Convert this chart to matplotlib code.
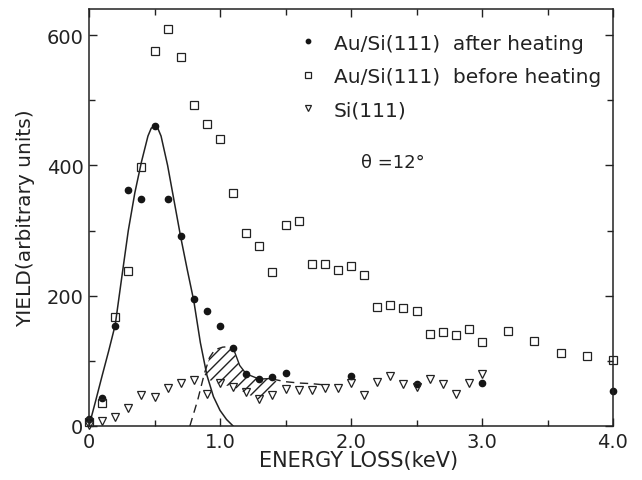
import matplotlib
matplotlib.use("Agg")
import numpy as np
import matplotlib.pyplot as plt
from matplotlib.patches import Polygon
from matplotlib.collections import LineCollection
from matplotlib.ticker import MultipleLocator

plt.rcParams['font.family'] = ['DejaVu Sans']

# Au/Si(111) after heating (filled circles)
after_x = [0.0, 0.1, 0.2, 0.3, 0.4, 0.5, 0.6, 0.7, 0.8, 0.9, 1.0, 1.1, 1.2, 1.3, 1.4, 1.5, 2.0, 2.5, 3.0, 4.0]
after_y = [10, 43, 154, 362, 348, 461, 348, 292, 195, 177, 154, 120, 80, 72, 75, 81, 77, 64, 66, 54]

# Au/Si(111) before heating (open squares)
before_x = [0.0, 0.1, 0.2, 0.3, 0.4, 0.5, 0.6, 0.7, 0.8, 0.9, 1.0, 1.1, 1.2, 1.3, 1.4, 1.5, 1.6,
            1.7, 1.8, 1.9, 2.0, 2.1, 2.2, 2.3, 2.4, 2.5, 2.6, 2.7, 2.8, 2.9, 3.0, 3.2, 3.4, 3.6, 3.8, 4.0]
before_y = [6, 35, 168, 238, 398, 575, 609, 566, 492, 463, 440, 357, 296, 277, 237, 309, 314,
            248, 249, 239, 245, 231, 183, 185, 181, 176, 141, 144, 140, 149, 129, 146, 130, 112, 108, 102]

# Si(111) (open down triangles)
si_x = [0.0, 0.1, 0.2, 0.3, 0.4, 0.5, 0.6, 0.7, 0.8, 0.9, 1.0, 1.1, 1.2, 1.3, 1.4, 1.5, 1.6, 1.7,
        1.8, 1.9, 2.0, 2.1, 2.2, 2.3, 2.4, 2.5, 2.6, 2.7, 2.8, 2.9, 3.0]
si_y = [2, 7, 14, 28, 48, 45, 58, 66, 71, 49, 66, 60, 52, 42, 48, 57, 56, 56,
        58, 58, 66, 47, 67, 76, 64, 60, 72, 65, 49, 66, 80]

# solid fitted peak curve
peak_x = [0.0, 0.05, 0.1, 0.15, 0.2, 0.25, 0.3, 0.35, 0.4, 0.45, 0.475, 0.5, 0.525, 0.55, 0.6, 0.65,
          0.7, 0.75, 0.8, 0.85, 0.9, 0.95, 1.0, 1.05, 1.1]
peak_y = [0, 38, 77, 115, 155, 228, 300, 358, 405, 445, 457, 461, 457, 445, 400, 345,
          290, 240, 192, 128, 78, 45, 24, 10, 0]

# dashed onset curve and top of hatched area
dash1_x = [0.77, 0.83, 0.88, 0.92, 0.96, 1.02, 1.08]
dash1_y = [0, 40, 80, 105, 117, 121, 122]

# thin solid line through after-heating points
link_x = [1.1, 1.15, 1.2, 1.3, 1.4]
link_y = [120, 93, 80, 72, 73]

# dashed tail
dash2_x = [1.4, 1.5, 1.6, 1.7, 1.8]
dash2_y = [72, 68, 66, 65, 63]

# hatched region outline
hatch_x = [0.88, 0.92, 0.96, 1.06, 1.10, 1.15, 1.2, 1.3, 1.4, 1.45, 1.38, 1.3, 1.2, 1.1, 1.0, 0.9]
hatch_y = [80, 105, 117, 122, 118, 93, 80, 72, 72, 66, 48, 40, 50, 60, 64, 72]

labels = ["Au/Si(111)  after heating", "Au/Si(111)  before heating", "Si(111)"]

ink = '#222222'
fig = plt.figure(figsize=(6.42, 4.81), dpi=100)
ax = fig.add_axes([89/642, 1-427/481, 524/642, 417/481])
ax.set_xlim(0, 4.0)
ax.set_ylim(0, 640)

# hatched area: diagonal strokes clipped to the region polygon
hp = Polygon(np.column_stack([hatch_x, hatch_y]), closed=True, facecolor='none',
             edgecolor='none', linewidth=0)
ax.add_patch(hp)
disp = ax.transData.transform(np.column_stack([hatch_x, hatch_y]))
x0, y0 = disp.min(axis=0)
x1, y1 = disp.max(axis=0)
step = 11.0
segs = []
for c in np.arange(y0 - x1, y1 - x0 + step, step):
    p = np.array([[x0 - 5, x0 - 5 + c], [x1 + 5, x1 + 5 + c]])
    segs.append(ax.transData.inverted().transform(p))
lc = LineCollection(segs, colors=ink, linewidths=1.0, zorder=1.5)
ax.add_collection(lc)
lc.set_clip_path(hp)

ax.plot(peak_x, peak_y, color=ink, lw=1.1)
ax.plot(dash1_x, dash1_y, color=ink, lw=1.0, ls=(0, (6, 4)))
ax.plot(link_x, link_y, color=ink, lw=1.0)
ax.plot(dash2_x, dash2_y, color=ink, lw=1.0, ls=(0, (6, 4)))

l1, = ax.plot(after_x, after_y, 'o', ms=4.5, color='#151515', ls='none', clip_on=False, label=labels[0])
l2, = ax.plot(before_x, before_y, 's', ms=5.5, mfc='none', mec=ink, mew=0.9, ls='none', clip_on=False, label=labels[1])
l3, = ax.plot(si_x, si_y, 'v', ms=5.5, mfc='none', mec=ink, mew=0.9, ls='none', clip_on=False, label=labels[2])

ax.set_xlim(0, 4.0)
ax.set_ylim(0, 640)
ax.xaxis.set_minor_locator(MultipleLocator(0.5))
ax.yaxis.set_minor_locator(MultipleLocator(100))
ax.set_xticks([0, 1, 2, 3, 4])
ax.set_xticklabels(['0', '1.0', '2.0', '3.0', '4.0'])
ax.set_yticks([0, 200, 400, 600])
ax.set_yticklabels(['0', '200', '400', '600'])
ax.tick_params(which='both', direction='in', top=True, right=True, color=ink, width=1.0)
ax.tick_params(which='major', length=6, labelsize=14, pad=4, labelcolor=ink)
ax.tick_params(which='minor', length=4)
for s in ax.spines.values():
    s.set_linewidth(1.1)
    s.set_color(ink)

ax.set_xlabel('ENERGY LOSS(keV)', fontsize=15, color=ink)
ax.xaxis.set_label_coords(0.515, -0.058, transform=ax.transAxes)
ax.xaxis.label.set_va('top')
ax.set_ylabel('YIELD(arbitrary units)', fontsize=14.5, color=ink)
ax.yaxis.set_label_coords(-0.103, 0.5)

leg = ax.legend(handles=[l1, l2, l3], loc='upper left', bbox_to_anchor=(0.375, 0.975), frameon=False,
                fontsize=14.5, markerscale=0.7, handlelength=0.8, handletextpad=0.9, labelspacing=0.72,
                borderaxespad=0.3)
for t in leg.get_texts():
    t.set_color(ink)

ax.text(0.52, 0.633, 'θ =12°', transform=ax.transAxes, fontsize=13, color=ink, va='center')

fig.savefig('out.png', dpi=100)
